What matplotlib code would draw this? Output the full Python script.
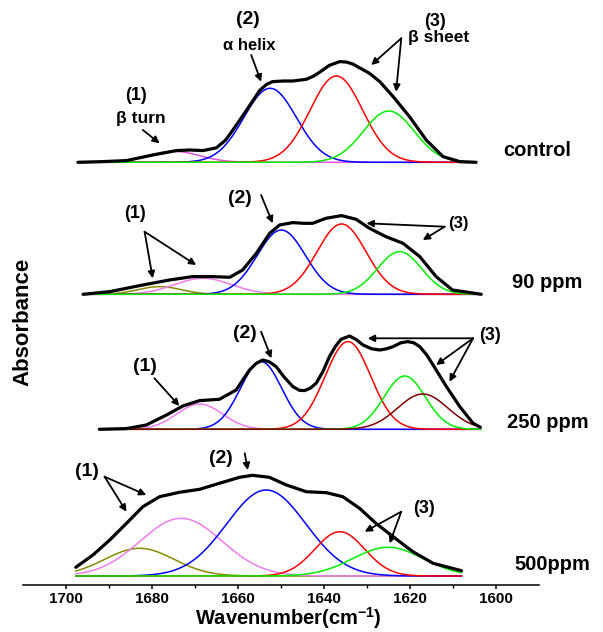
import numpy as np
import matplotlib.pyplot as plt

plt.rcParams['font.family'] = ['Liberation Sans', 'DejaVu Sans']
plt.rcParams['font.weight'] = 'bold'
plt.rcParams['mathtext.fontset'] = 'custom'
plt.rcParams['mathtext.rm'] = 'Liberation Sans:bold'
plt.rcParams['mathtext.default'] = 'rm'

panel_names = ['control', '90 ppm', '250 ppm', '500ppm']

# measured amide I spectra (black curves), wavenumber and absorbance (a.u.)
control_wn = [1697.3, 1691.5, 1686.0, 1679.9, 1674.4, 1671.3, 1668.2, 1665.1, 1663.0, 1661.3,
              1658.1, 1655.0, 1653.4, 1652.0, 1649.5, 1647.3, 1644.2, 1642.6, 1641.1, 1638.8,
              1636.4, 1634.8, 1633.4, 1629.5, 1627.1, 1624.0, 1620.2, 1616.3, 1612.4, 1608.5,
              1604.7]
control_abs = [0, 0.7, 1.7, 7.3, 11.7, 12.3, 11.7, 14.5, 22, 32,
               52, 72, 78, 80.7, 81.3, 81.3, 83, 86, 90, 97,
               100.7, 100.2, 98.3, 89, 80.7, 65.7, 45.7, 22.3, 5.7, 0.7,
               0]

ppm90_wn = [1696.1, 1689.9, 1682.2, 1676.0, 1670.6, 1666.0, 1662.0, 1659.0, 1655.8, 1652.7,
            1650.4, 1647.3, 1644.8, 1642.7, 1639.6, 1636.0, 1632.6, 1629.5, 1625.7, 1621.7,
            1617.8, 1614.0, 1610.2, 1603.5]
ppm90_abs = [0, 2.7, 9.3, 14.3, 17.7, 17.7, 17.0, 24.3, 41.0, 61.0,
             69.3, 71.7, 71.0, 71.0, 76.0, 78.7, 75.0, 66.0, 57.7, 51.0,
             37.7, 17.7, 4.3, 0]

ppm250_wn = [1692.3, 1686.0, 1681.4, 1676.7, 1672.9, 1669.0, 1664.4, 1660.5, 1657.4, 1655.8,
             1654.3, 1652.8, 1651.2, 1649.3, 1647.3, 1645.8, 1644.6, 1643.3, 1641.9, 1640.3,
             1638.8, 1637.4, 1636.1, 1634.1, 1632.5, 1631.0, 1629.0, 1627.1, 1625.5, 1624.0,
             1622.2, 1620.6, 1619.2, 1617.8, 1616.2, 1614.7, 1611.6, 1608.5, 1605.4, 1603.7]
ppm250_abs = [0, 0.7, 4.3, 14.3, 23.3, 28.7, 30.0, 39.3, 59.3, 66.0,
              69.3, 67.5, 62.7, 52.0, 42.7, 39.0, 38.7, 41.0, 46.0, 58.0,
              72.7, 83.0, 90.0, 93.3, 89.5, 84.3, 80.5, 79.3, 80.5, 82.7,
              86.5, 87.7, 86.5, 82.7, 74.5, 64.3, 42.7, 22.7, 6.0, 2.0]

ppm500_wn = [1697.8, 1693.8, 1689.9, 1686.0, 1682.2, 1678.3, 1673.7, 1669.0, 1664.4, 1659.7,
             1656.7, 1652.8, 1648.8, 1644.2, 1639.5, 1635.7, 1631.8, 1628.0, 1624.0, 1619.4,
             1614.7, 1608.1]
ppm500_abs = [8.7, 21, 36, 52.7, 69.3, 79.3, 83.7, 86.7, 92.7, 98.7,
              100.7, 98.7, 91, 84.3, 83.3, 79.3, 67.7, 52.7, 39.3, 24.3,
              12.7, 5.3]

# fitted gaussian bands: centre (cm-1), height, sigma
control_pos = [1675.0, 1652.6, 1637.2, 1625.0]
control_amp = [11.0, 74.0, 86.3, 51.3]
control_sig = [6.0, 6.1, 6.1, 5.9]

ppm90_pos = [1678.3, 1668.2, 1650.0, 1636.0, 1622.5]
ppm90_amp = [7.7, 16.0, 64.3, 70.3, 42.7]
ppm90_sig = [5.0, 6.6, 5.6, 5.7, 5.1]

ppm250_pos = [1669.0, 1654.7, 1634.5, 1621.3, 1617.1]
ppm250_amp = [25.3, 67.7, 87.7, 53.3, 35.3]
ppm250_sig = [5.3, 4.8, 5.3, 4.8, 5.8]

ppm500_pos = [1683.0, 1673.3, 1653.5, 1636.4, 1625.2]
ppm500_amp = [27.7, 57.7, 86.0, 44.3, 28.7]
ppm500_sig = [8.0, 9.5, 9.2, 5.8, 8.2]

MAG = '#f07cf0'
OLV = '#8a8a00'
GRN = '#00ee00'
control_cols = ['#e050e0', 'blue', 'red', GRN]
ppm90_cols = [OLV, MAG, 'blue', 'red', GRN]
ppm250_cols = [MAG, 'blue', 'red', GRN, '#800000']
ppm500_cols = [OLV, MAG, 'blue', 'red', GRN]

spectra = [(control_wn, control_abs), (ppm90_wn, ppm90_abs),
           (ppm250_wn, ppm250_abs), (ppm500_wn, ppm500_abs)]
bands = [(control_pos, control_amp, control_sig, control_cols),
         (ppm90_pos, ppm90_amp, ppm90_sig, ppm90_cols),
         (ppm250_pos, ppm250_amp, ppm250_sig, ppm250_cols),
         (ppm500_pos, ppm500_amp, ppm500_sig, ppm500_cols)]
offsets = [422.7, 290.7, 155.7, 9.0]
label_y = [435, 303, 163, 20]
label_x = [1598.5, 1596.4, 1597.4, 1595.8]

fig = plt.figure(figsize=(6.03, 6.32), dpi=100)
ax = fig.add_axes([23.3 / 603, 47 / 632, 516 / 603, 585 / 632])

for i in range(4):
    wn, ab = spectra[i]
    pos, amp, sig, cols = bands[i]
    off = offsets[i]
    x = np.linspace(wn[0], wn[-1], 400)
    for c, a, s, col in zip(pos, amp, sig, cols):
        ax.plot(x, off + a * np.exp(-(x - c) ** 2 / (2 * s ** 2)), color=col, lw=1.1, zorder=2)
    ax.plot(wn, off + np.array(ab), color='black', lw=2.3, zorder=3,
            solid_joinstyle='round', solid_capstyle='round')
    ax.text(label_x[i], label_y[i], panel_names[i], fontsize=14.5, fontweight='bold',
            ha='left', va='center')


def note(txt, x, y, size=14):
    ax.text(x, y, txt, fontsize=size, fontweight='bold', ha='center', va='center', zorder=5)


def arrow(start, end):
    ax.annotate('', xy=end, xytext=start,
                arrowprops=dict(arrowstyle='-|>', color='black', lw=1.3,
                                mutation_scale=10, shrinkA=0, shrinkB=0), zorder=5)


# control
note('(2)', 1657.8, 565)
note('α helix', 1657.4, 540, 12)
arrow((1657.0, 530), (1654.7, 503.3))
note('(1)', 1683.9, 490, 13)
note('β turn', 1682.6, 466.7, 12.5)
arrow((1682.2, 455), (1678.3, 441.7))
note('(3)', 1614.3, 563.3, 13)
note('β sheet', 1613.4, 547.7, 12.5)
arrow((1622.1, 546.7), (1629.1, 520))
arrow((1622.1, 546.7), (1623.3, 493.3))

# 90 ppm
note('(1)', 1684.1, 371.7, 13)
arrow((1681.8, 353.3), (1679.9, 306.7))
arrow((1681.8, 353.3), (1669.8, 320))
note('(2)', 1659.7, 386.7)
arrow((1654.7, 390), (1652.0, 361.7))
note('(3)', 1608.9, 361.7, 12)
arrow((1612.0, 358.3), (1630.2, 361.7))
arrow((1612.0, 358.3), (1617.1, 345))

# 250 ppm
note('(1)', 1681.8, 218.3)
arrow((1679.5, 206.7), (1673.7, 179))
note('(2)', 1658.5, 251.7)
arrow((1654.7, 253.3), (1652.3, 226.7))
note('(3)', 1601.5, 250, 13)
arrow((1605.4, 246.7), (1629.9, 246.7))
arrow((1605.4, 246.7), (1614.0, 220))
arrow((1605.4, 246.7), (1610.9, 203.3))

# 500 ppm
note('(1)', 1695.3, 113.3)
arrow((1691.1, 108.3), (1681.4, 90))
arrow((1691.1, 108.3), (1686.0, 73.3))
note('(2)', 1664.0, 126.7)
arrow((1658.5, 131.7), (1657.8, 115))
note('(3)', 1616.7, 76.7, 13)
arrow((1622.1, 73.3), (1630.6, 53.3))
arrow((1622.1, 73.3), (1624.8, 41.7))

ax.set_xlim(1710, 1590)
ax.set_ylim(0, 585)
ax.set_yticks([])
ax.set_xticks([1700, 1680, 1660, 1640, 1620, 1600])
ax.set_xticks(np.arange(1600, 1710, 10), minor=True)
for s in ['left', 'top', 'right']:
    ax.spines[s].set_visible(False)
ax.spines['bottom'].set_linewidth(1.1)
ax.tick_params(axis='x', which='major', labelsize=11, length=3, width=1.1, pad=2)
ax.tick_params(axis='x', which='minor', length=2.5, width=1.0)
ax.patch.set_alpha(0)

fig.text(288 / 603, 1 - 631 / 632, 'Wavenumber(cm$^{-1}$)', fontsize=14.5,
         fontweight='bold', ha='center', va='bottom')
fig.text(23 / 603, 1 - 322 / 632, 'Absorbance', fontsize=16, fontweight='bold',
         rotation=90, ha='center', va='center')

fig.savefig('out.png', dpi=100)
